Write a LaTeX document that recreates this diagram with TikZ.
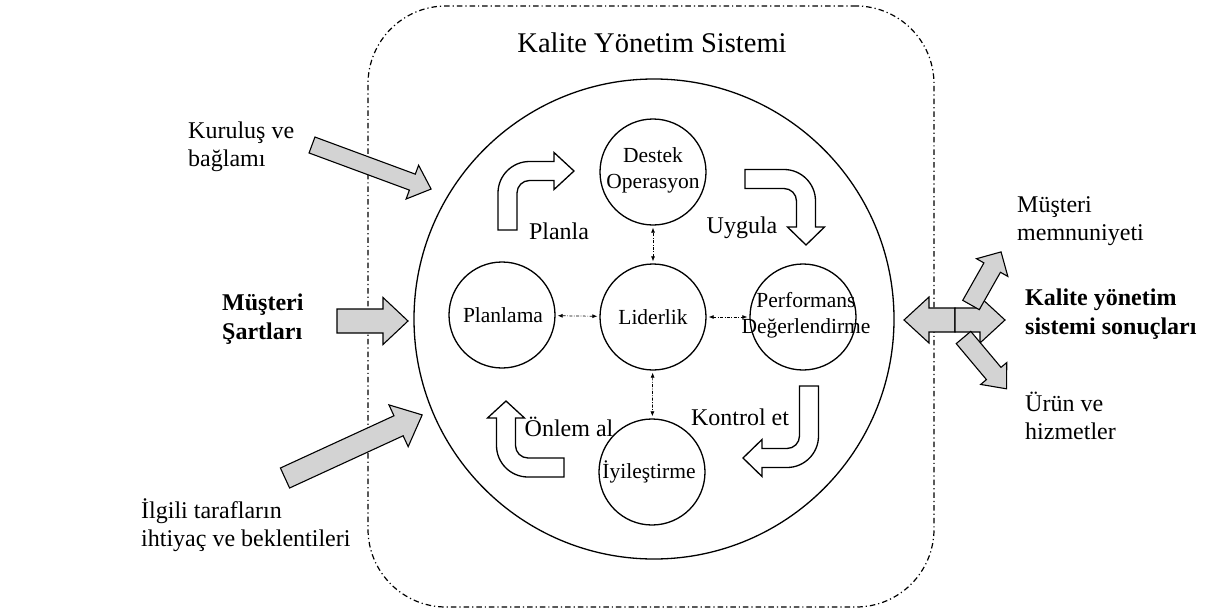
\documentclass[tikz,border=0pt]{standalone}
\usepackage{fontspec}
\setmainfont{Liberation Serif}
\usetikzlibrary{arrows.meta}
\definecolor{arrgray}{RGB}{211,211,211}
\tikzset{
  circ/.style={draw, circle, minimum size=106pt, inner sep=0pt, line width=1.3pt},
  ctext/.style={font=\fontsize{21.5}{26}\selectfont, align=center, inner sep=0pt},
  otext/.style={font=\fontsize{24}{27.5}\selectfont, align=left, anchor=west, inner sep=0pt},
  btext/.style={font=\bfseries\fontsize{24}{28.5}\selectfont, align=left, anchor=west, inner sep=0pt},
  ftext/.style={font=\fontsize{24}{27}\selectfont, inner sep=0pt},
  grayarr/.style={draw, fill=arrgray, line width=1.1pt, line join=miter},
  flowarrow/.style={draw, fill=white, line width=1.3pt, line join=miter},
  dotarrow/.style={{Latex[length=5pt,width=4pt]}-{Latex[length=5pt,width=4pt]}, line width=0.7pt,
    dash pattern=on 3pt off 1.5pt on 0.8pt off 1.5pt, shorten >=2pt, shorten <=2pt},
  dashdotbox/.style={draw, line width=1.2pt, dash pattern=on 5.5pt off 3pt on 1.2pt off 3pt}
}
% bent hollow arrow: #1 ox, #2 oy (image px), #3 second-leg vector, #4 first-leg vector, #5 L1, #6 H, #7 head length
\newcommand{\bentarrow}[7]{%
\begin{scope}[shift={(#1pt,-#2pt)}, x={#3}, y={#4}]
\draw[flowarrow] (-9.5,0) -- (-9.5,#5)
  .. controls (-9.5,{#5+0.5523*31.5}) and ({22-0.5523*31.5},{#5+31.5}) .. (22,{#5+31.5})
  -- (#6,{#5+31.5}) -- (#6,{#5+22+18.5}) -- ({#6+#7},{#5+22}) -- (#6,{#5+22-18.5})
  -- (#6,{#5+12.5}) -- (22,{#5+12.5})
  .. controls ({22-0.5523*12.5},{#5+12.5}) and (9.5,{#5+0.5523*12.5}) .. (9.5,#5)
  -- (9.5,0) -- cycle;
\end{scope}}
% straight gray arrow: #1 x, #2 y (image px), #3 canvas angle, #4 length, #5 half shaft, #6 half head, #7 head length
\newcommand{\grayarrow}[7]{%
\begin{scope}[shift={(#1pt,-#2pt)}, rotate=#3]
\draw[grayarr] (0,-#5) -- ({#4-#7},-#5) -- ({#4-#7},-#6) -- (#4,0) -- ({#4-#7},#6) -- ({#4-#7},#5) -- (0,#5) -- cycle;
\end{scope}}
\begin{document}
\begin{tikzpicture}[x=1pt, y=-1pt]
\useasboundingbox (0,0) rectangle (1215,613);

% system boundary
\node[dashdotbox, rounded corners=78pt, minimum width=566pt, minimum height=601pt, inner sep=0pt] (kysbox) at (651,306.5) {};
\node[font=\fontsize{28.5}{32}\selectfont, inner sep=0pt] (title) at (652,43) {Kalite Yönetim Sistemi};

% big circle
\node[draw, circle, minimum size=480pt, inner sep=0pt, line width=1.3pt] (big) at (654,319) {};

% inner circles
\node[circ] (dest) at (653,172) {};
\node[circ] (plan) at (502,315) {};
\node[circ] (lid) at (653,317) {};
\node[circ] (perf) at (803,317) {};
\node[circ] (iyi) at (652,472) {};

\node[ctext] (destT) at (653,170) {Destek\\Operasyon};
\node[ctext] (planT) at (503,315) {Planlama};
\node[ctext] (lidT) at (653,317) {Liderlik};
\node[ctext] (perfT) at (806,315) {Performans\\Değerlendirme};
\node[ctext] (iyiT) at (649,472) {İyileştirme};

% dotted connectors
\draw[dotarrow] (lid) -- (dest);
\draw[dotarrow] (lid) -- (plan);
\draw[dotarrow] (lid) -- (perf);
\draw[dotarrow] (lid) -- (iyi);

% bent flow arrows
\bentarrow{507.5}{230}{(1pt,0pt)}{(0pt,1pt)}{37}{46.5}{20}
\bentarrow{745}{179}{(0pt,-1pt)}{(1pt,0pt)}{39}{48}{18}
\bentarrow{809}{386}{(-1pt,0pt)}{(0pt,-1pt)}{50}{47}{19}
\bentarrow{564}{467.5}{(0pt,1pt)}{(-1pt,0pt)}{36}{49.5}{17}

\node[ftext] (planla) at (559,231) {Planla};
\node[ftext] (uygula) at (742,228) {Uygula};
\node[ftext] (onlem) at (569,427) {Önlem al};
\node[ftext] (kontrol) at (740,417) {Kontrol et};

% left inputs
\grayarrow{312}{145}{-20.3}{127}{8.5}{18}{20}
\grayarrow{337}{321}{0}{71}{12}{23.5}{25}
\grayarrow{285}{478}{24.7}{151}{11}{23}{26}

\node[otext] (kur) at (188,147) {Kuruluş ve\\bağlamı};
\node[btext] (must) at (222,319) {Müşteri\\Şartları};
\node[otext] (ilg) at (141,525) {İlgili tarafların\\ihtiyaç ve beklentileri};

% right outputs
\grayarrow{955}{320}{180}{51}{12}{23}{25}
\grayarrow{955}{320}{0}{50}{12}{23}{25}
\grayarrow{971}{305}{60.5}{61}{9.5}{18}{18}
\grayarrow{963.5}{337.5}{-50}{67}{9.5}{17}{20}

\node[otext] (memn) at (1017,221) {Müşteri\\memnuniyeti};
\node[btext] (sonuc) at (1025,314) {Kalite yönetim\\sistemi sonuçları};
\node[otext] (urun) at (1025,416) {Ürün ve\\hizmetler};
\end{tikzpicture}
\end{document}
